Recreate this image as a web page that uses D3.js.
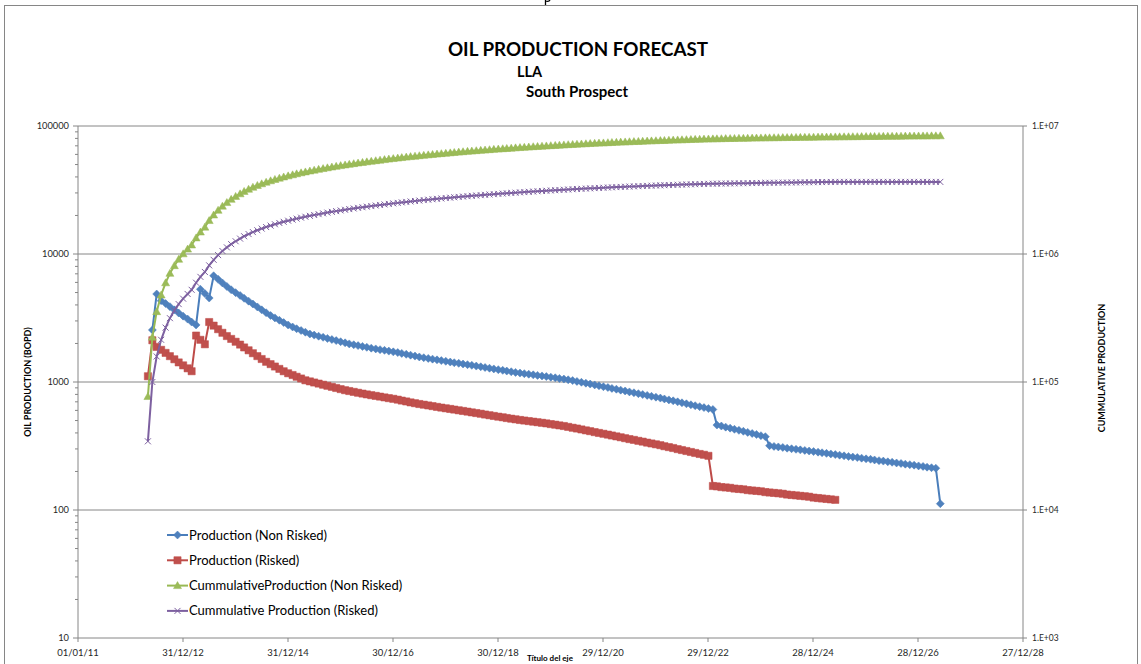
<!DOCTYPE html>
<html>
<head>
<meta charset="utf-8">
<script src="https://cdn.jsdelivr.net/npm/d3@7"></script>
<style>
  body { margin: 0; background: #fff; }
  text { font-family: Lato, "Liberation Sans", sans-serif; }
</style>
</head>
<body>
<div class="div_d3"></div>
<script>

// ---- data ----
const firstMonth = "2012-05-01"   // monthly points from here on

const xTickLabels = ["01/01/11","31/12/12","31/12/14","30/12/16","30/12/18","29/12/20","29/12/22","28/12/24","28/12/26","27/12/28"]
const leftTicks = [10, 100, 1000, 10000, 100000]
const rightTicks = [1e3, 1e4, 1e5, 1e6, 1e7]
const rightTickLabels = ["1.E+03","1.E+04","1.E+05","1.E+06","1.E+07"]

const seriesNames = ["Production (Non Risked)", "Production (Risked)", "CummulativeProduction (Non Risked)", "Cummulative Production (Risked)"]

// BOPD, blue series starts one month later
const prodNonRisked = [null,
  2550,4870,4320,4100,3880,3660,3460,3270,3100,2940,
  2790,5300,4910,4530,6761,6339,5943,5572,5253,4991,
  4742,4506,4281,4066,3858,3663,3476,3306,3169,3036,
  2910,2788,2690,2607,2526,2448,2371,2324,2278,2234,
  2189,2147,2105,2064,2024,1985,1954,1924,1895,1866,
  1838,1814,1790,1767,1743,1720,1698,1673,1646,1620,
  1594,1569,1548,1528,1509,1489,1470,1451,1432,1415,
  1399,1382,1366,1349,1332,1315,1298,1281,1265,1249,
  1233,1218,1203,1188,1174,1162,1150,1138,1126,1115,
  1103,1091,1079,1066,1054,1041,1026,1010,995,979,
  964,949,934,919,906,891,878,864,851,837,
  824,811,798,786,773,761,749,737,725,713,
  700,688,676,664,653,642,631,620,610,461,
  453,444,436,427,419,412,404,396,389,381,
  374,318,314,311,308,304,301,298,295,292,
  289,286,283,280,277,274,271,268,265,262,
  259,257,254,251,249,246,243,241,238,236,
  233,231,228,226,224,221,219,216,214,212,
  112]

const prodRisked = [
  1109,2118,1879,1784,1688,1592,1505,1422,1349,1279,
  1214,2306,2136,1971,2941,2757,2585,2424,2285,2171,
  2063,1960,1862,1769,1678,1593,1512,1438,1379,1321,
  1266,1213,1170,1134,1099,1065,1031,1011,991,972,
  952,934,916,898,880,863,850,837,824,812,
  800,789,779,769,758,748,739,728,716,705,
  693,683,673,665,656,648,639,631,623,616,
  609,601,594,587,579,572,565,557,550,543,
  536,530,523,517,511,505,500,495,490,485,
  480,475,469,464,458,453,446,439,433,426,
  419,413,406,400,394,388,382,376,370,364,
  358,353,347,342,336,331,326,321,315,310,
  305,299,294,289,284,279,274,270,265,154,
  153,151,150,149,147,146,145,143,142,141,
  140,138,137,136,135,134,132,131,130,129,
  128,127,125,124,123,122,121,120]

// barrels, right axis
const cumNonRisked = [
  77000,224100,354500,478400,595500,706100,810600,909300,1002900,1091700,
  1176000,1336000,1484300,1621100,1825300,2016800,2196200,2364500,2523100,2673900,
  2817100,2953200,3082500,3205200,3321800,3432400,3537400,3637200,3732900,3824600,
  3912500,3996700,4077900,4156600,4232900,4306900,4378500,4448600,4517400,4584900,
  4651000,4715900,4779400,4841800,4902900,4962800,5021800,5079900,5137200,5193500,
  5249000,5303800,5357900,5411200,5463900,5515800,5567100,5617600,5667300,5716300,
  5764400,5811800,5858500,5904700,5950200,5995200,6039600,6083400,6126700,6169400,
  6211700,6253400,6294600,6335400,6375600,6415300,6454500,6493200,6531400,6569100,
  6606400,6643200,6679500,6715400,6750800,6785900,6820600,6855000,6889000,6922700,
  6956000,6988900,7021500,7053700,7085600,7117000,7148000,7178500,7208500,7238100,
  7267200,7295900,7324100,7351800,7379200,7406100,7432600,7458700,7484400,7509700,
  7534600,7559100,7583200,7606900,7630200,7653200,7675800,7698100,7720000,7741500,
  7762700,7783400,7803900,7823900,7843600,7863000,7882100,7900800,7919200,7933100,
  7946800,7960200,7973400,7986300,7999000,8011400,8023600,8035600,8047300,8058800,
  8070100,8079700,8089200,8098600,8107900,8117100,8126200,8135200,8144100,8152900,
  8161600,8170200,8178800,8187300,8195600,8203900,8212100,8220200,8228200,8236100,
  8243900,8251700,8259300,8266900,8274400,8281900,8289200,8296500,8303700,8310800,
  8317800,8324800,8331700,8338500,8345300,8352000,8358600,8365100,8371600,8378000,
  8381300,8382000]

const cumRisked = [
  34400,100000,158300,213600,265900,315300,361900,406000,447800,487500,
  525100,596600,662800,723900,815100,900600,980700,1055800,1126700,1194000,
  1257900,1318700,1376400,1431200,1483300,1532600,1579500,1624100,1666800,1707800,
  1747000,1784600,1820900,1856100,1890100,1923100,1955100,1986400,2017200,2047300,
  2076800,2105800,2134200,2162000,2189300,2216000,2242400,2268300,2293900,2319000,
  2343800,2368300,2392500,2416300,2439800,2463000,2485900,2508500,2530700,2552500,
  2574000,2595200,2616000,2636600,2657000,2677100,2696900,2716400,2735800,2754800,
  2773700,2792400,2810800,2829000,2846900,2864600,2882200,2899400,2916500,2933300,
  2949900,2966400,2982600,2998600,3014400,3030100,3045600,3060900,3076100,3091200,
  3106000,3120800,3135300,3149700,3163900,3177900,3191800,3205400,3218800,3232000,
  3245000,3257800,3270400,3282800,3295000,3307000,3318900,3330500,3342000,3353300,
  3364400,3375300,3386100,3396700,3407100,3417300,3427500,3437400,3447200,3456800,
  3466200,3475500,3484600,3493600,3502400,3511000,3519500,3527900,3536100,3540900,
  3545600,3550300,3555000,3559600,3564100,3568700,3573200,3577600,3582000,3586400,
  3590700,3595000,3599200,3603400,3607600,3611800,3615900,3619900,3624000,3628000,
  3631900,3635900,3639700,3643600,3647400,3651200,3654900,3658700,3658700,3658700,
  3658700,3658700,3658700,3658700,3658700,3658700,3658700,3658700,3658700,3658700,
  3658700,3658700,3658700,3658700,3658700,3658700,3658700,3658700,3658700,3658700,
  3658700,3658700]


const W = 1141, H = 664
const margin = {top: 126, right: 118, bottom: 26, left: 78},
      width = W - margin.left - margin.right,
      height = H - margin.top - margin.bottom

const axisColor = "#868686"
const labelColor = "#262626"

const svg = d3.select(".div_d3")
  .append("svg")
    .attr("width", W)
    .attr("height", H)

// outer chart frame (bottom runs off the page)
svg.append("rect")
  .attr("x", 4.5).attr("y", 5.5)
  .attr("width", 1133).attr("height", 700)
  .attr("fill", "none").attr("stroke", axisColor)

// bit of a glyph poking in from above the frame
svg.append("path")
  .attr("d", "M545.5,0V5M545.5,1Q549,2 550,0")
  .attr("fill", "none").attr("stroke", "#000").attr("stroke-width", 1.3)

// titles
svg.append("text").attr("x", 578).attr("y", 56).attr("text-anchor", "middle")
  .attr("font-size", "18.8px").attr("font-weight", "bold").text("OIL PRODUCTION FORECAST")
svg.append("text").attr("x", 517).attr("y", 77)
  .attr("font-size", "14.5px").attr("font-weight", "bold").text("LLA")
svg.append("text").attr("x", 526).attr("y", 97)
  .attr("font-size", "15px").attr("font-weight", "bold").text("South Prospect")

const g = svg.append("g")
  .attr("transform", `translate(${margin.left},${margin.top})`)

const parseTick = d3.timeParse("%d/%m/%y")
const xTickDates = xTickLabels.map(parseTick)

const x = d3.scaleTime()
  .domain([xTickDates[0], xTickDates[xTickDates.length - 1]])
  .range([0, width])
const y = d3.scaleLog().domain([10, 100000]).range([height, 0])
const y2 = d3.scaleLog().domain([1e3, 1e7]).range([height, 0])

// months for every data point
const start = d3.timeParse("%Y-%m-%d")(firstMonth)
const months = cumNonRisked.map((d, i) => d3.timeMonth.offset(start, i))

// gridlines
g.selectAll(".grid")
  .data(leftTicks.slice(1))
  .enter()
  .append("line")
    .attr("x1", 0).attr("x2", width)
    .attr("y1", d => y(d)).attr("y2", d => y(d))
    .attr("stroke", axisColor).attr("stroke-width", 1)

// left axis
g.append("line").attr("x1", 0).attr("x2", 0).attr("y1", 0).attr("y2", height)
  .attr("stroke", axisColor)
g.selectAll(".ytick")
  .data(leftTicks)
  .enter()
  .append("line")
    .attr("x1", -5).attr("x2", 0)
    .attr("y1", d => y(d)).attr("y2", d => y(d))
    .attr("stroke", axisColor)
let minors = []
for (let dec of leftTicks.slice(0, -1)) {
  for (let k = 2; k < 10; k++) minors.push(dec * k)
}
g.selectAll(".yminor")
  .data(minors)
  .enter()
  .append("line")
    .attr("x1", -3).attr("x2", 0)
    .attr("y1", d => y(d)).attr("y2", d => y(d))
    .attr("stroke", axisColor)
g.selectAll(".ylabel")
  .data(leftTicks)
  .enter()
  .append("text")
    .attr("x", -9).attr("y", d => y(d)).attr("dy", "0.35em")
    .attr("text-anchor", "end").attr("font-size", "9.3px").attr("fill", labelColor)
    .text(d => d)

// right axis
g.append("line").attr("x1", width).attr("x2", width).attr("y1", 0).attr("y2", height)
  .attr("stroke", axisColor)
g.selectAll(".y2tick")
  .data(rightTicks)
  .enter()
  .append("line")
    .attr("x1", width).attr("x2", width + 4)
    .attr("y1", d => y2(d)).attr("y2", d => y2(d))
    .attr("stroke", axisColor)
g.selectAll(".y2label")
  .data(rightTicks)
  .enter()
  .append("text")
    .attr("x", width + 9).attr("y", d => y2(d)).attr("dy", "0.35em")
    .attr("font-size", "8.5px").attr("fill", labelColor)
    .text((d, i) => rightTickLabels[i])

// bottom axis
g.append("line").attr("x1", 0).attr("x2", width).attr("y1", height).attr("y2", height)
  .attr("stroke", axisColor)
g.selectAll(".xtick")
  .data(xTickDates)
  .enter()
  .append("line")
    .attr("x1", d => x(d)).attr("x2", d => x(d))
    .attr("y1", height).attr("y2", height + 4)
    .attr("stroke", axisColor)
g.selectAll(".xlabel")
  .data(xTickDates)
  .enter()
  .append("text")
    .attr("x", d => x(d)).attr("y", height + 18)
    .attr("text-anchor", "middle").attr("font-size", "9.5px").attr("fill", labelColor)
    .text((d, i) => xTickLabels[i])

// axis titles
svg.append("text").attr("x", 550).attr("y", 661).attr("text-anchor", "middle")
  .attr("font-size", "8px").attr("font-weight", "bold").text("Título del eje")
svg.append("text")
  .attr("transform", "translate(31,382) rotate(-90)")
  .attr("text-anchor", "middle").attr("font-size", "9px").attr("font-weight", "bold")
  .text("OIL PRODUCTION (BOPD)")
svg.append("text")
  .attr("transform", "translate(1105,368) rotate(-90)")
  .attr("text-anchor", "middle").attr("font-size", "9px").attr("font-weight", "bold")
  .text("CUMMULATIVE PRODUCTION")

// marker shapes
const shapes = {
  diamond: "M0,-4L4,0L0,4L-4,0Z",
  square: "M-3.6,-3.6H3.6V3.6H-3.6Z",
  triangle: "M0,-4L4,3L-4,3Z",
  cross: "M-3,-3L3,3M-3,3L3,-3"
}

const series = [
  {name: seriesNames[0], values: prodNonRisked, scale: y, line: "#4A7EBB", fill: "#4F81BD", shape: "diamond"},
  {name: seriesNames[1], values: prodRisked, scale: y, line: "#BE4B48", fill: "#C0504D", shape: "square"},
  {name: seriesNames[2], values: cumNonRisked, scale: y2, line: "#98B954", fill: "#9BBB59", shape: "triangle"},
  {name: seriesNames[3], values: cumRisked, scale: y2, line: "#7D60A0", fill: "none", shape: "cross"}
]

for (let s of series) {
  let pts = months.map((m, i) => ({date: m, v: s.values[i] ?? null}))
  let line = d3.line()
    .defined(d => d.v != null)
    .x(d => x(d.date))
    .y(d => s.scale(d.v))
  g.append("path")
    .datum(pts)
    .attr("d", line)
    .attr("fill", "none")
    .attr("stroke", s.line)
    .attr("stroke-width", 2)
  g.selectAll(".m-" + s.shape)
    .data(pts.filter(d => d.v != null))
    .enter()
    .append("path")
      .attr("transform", d => `translate(${x(d.date)},${s.scale(d.v)})`)
      .attr("d", shapes[s.shape])
      .attr("fill", s.fill)
      .attr("stroke", s.line)
      .attr("stroke-width", s.shape == "cross" ? 1 : 0.5)
}

// legend
const legend = svg.append("g")
series.forEach((s, i) => {
  let ly = 535 + i * 25.3
  legend.append("line").attr("x1", 167).attr("x2", 188).attr("y1", ly).attr("y2", ly)
    .attr("stroke", s.line).attr("stroke-width", 2)
  legend.append("path").attr("transform", `translate(177.5,${ly})`)
    .attr("d", shapes[s.shape]).attr("fill", s.fill).attr("stroke", s.line)
    .attr("stroke-width", s.shape == "cross" ? 1 : 0.5)
  legend.append("text").attr("x", 189).attr("y", ly).attr("dy", "0.35em")
    .attr("font-size", "13px").attr("fill", "#000").text(s.name)
})

</script>
</body>
</html>
